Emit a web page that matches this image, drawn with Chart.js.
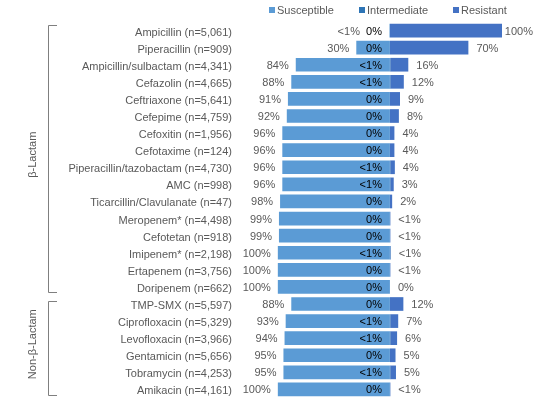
<!DOCTYPE html>
<html lang="en">
<head>
    <meta charset="UTF-8">
    <title>Susceptibility</title>
    <style>
        body{
            margin: 0;
            background: #fff;
        }
        .chart-item{
            width: 559px;
            height: 398px;
        }
    </style>
</head>
<body>
    <div class="chart-item">
        <canvas id="mychart"></canvas>
    </div>

    <script src="https://cdn.jsdelivr.net/npm/chart.js@4/dist/chart.umd.min.js"></script>
    <script>
        /* drug names and sample sizes */
        const drugs = [
            'Ampicillin (n=5,061)', 'Piperacillin (n=909)', 'Ampicillin/sulbactam (n=4,341)',
            'Cefazolin (n=4,665)', 'Ceftriaxone (n=5,641)', 'Cefepime (n=4,759)',
            'Cefoxitin (n=1,956)', 'Cefotaxime (n=124)', 'Piperacillin/tazobactam (n=4,730)',
            'AMC (n=998)', 'Ticarcillin/Clavulanate (n=47)', 'Meropenem* (n=4,498)',
            'Cefotetan (n=918)', 'Imipenem* (n=2,198)', 'Ertapenem (n=3,756)',
            'Doripenem (n=662)', 'TMP-SMX (n=5,597)', 'Ciprofloxacin (n=5,329)',
            'Levofloxacin (n=3,966)', 'Gentamicin (n=5,656)', 'Tobramycin (n=4,253)',
            'Amikacin (n=4,161)'
        ];

        // percentages (values between 0 and 1 are shown as "<1%")
        const susceptible  = [0.4, 30, 84, 88, 91, 92, 96, 96, 96, 96, 98, 99, 99, 100, 100, 100, 88, 93, 94, 95, 95, 100];
        const intermediate = [0, 0, 0.4, 0.4, 0, 0, 0, 0, 0.4, 0.4, 0, 0, 0, 0.4, 0, 0, 0, 0.4, 0.4, 0, 0.4, 0];
        const resistant    = [100, 70, 16, 12, 9, 8, 4, 4, 4, 3, 2, 0.4, 0.4, 0.4, 0.4, 0, 12, 7, 6, 5, 5, 0.4];

        /* drug groups (first and last row) */
        const groupNames = ['β-Lactam', 'Non-β-Lactam'];
        const groupFirst = [0, 16];
        const groupLast  = [15, 21];

        const FONT = '"Liberation Sans", Arial, sans-serif';
        const GREY = '#595959';

        function pct(v){
            if (v > 0 && v < 1) return '<1%';
            return Math.round(v) + '%';
        }

        // 막대 옆 라벨, 범례, 그룹 괄호
        const extras = {
            id: 'extras',
            afterDatasetsDraw(chart){
                const ctx = chart.ctx;
                const xs = chart.scales.x;
                const ys = chart.scales.y;
                const center = xs.getPixelForValue(0);

                ctx.save();
                ctx.font = '11px ' + FONT;
                ctx.textBaseline = 'middle';

                for (let i = 0; i < drugs.length; i++){
                    const y = ys.getPixelForValue(i);

                    ctx.fillStyle = GREY;
                    ctx.textAlign = 'right';
                    const sx = Math.min(xs.getPixelForValue(-susceptible[i]) - 7, center - 30);
                    ctx.fillText(pct(susceptible[i]), sx, y + 1);

                    ctx.fillStyle = '#000';
                    ctx.fillText(pct(intermediate[i]), center - 8, y + 1);

                    ctx.fillStyle = GREY;
                    ctx.textAlign = 'left';
                    const txt = pct(resistant[i]);
                    let rx = xs.getPixelForValue(intermediate[i] + resistant[i]) + 8;
                    const w = ctx.measureText(txt).width;
                    if (rx + w > 533) rx = 533 - w;
                    ctx.fillText(txt, rx, y + 1);
                }

                /* legend */
                const lx = [269, 359, 453];
                chart.data.datasets.forEach((ds, k) => {
                    ctx.fillStyle = ds.backgroundColor;
                    ctx.fillRect(lx[k], 7, 6, 6);
                    ctx.fillStyle = GREY;
                    ctx.textAlign = 'left';
                    ctx.fillText(ds.label, lx[k] + 8, 10.5);
                });

                /* group brackets */
                const half = (ys.getPixelForValue(1) - ys.getPixelForValue(0)) / 2;
                ctx.strokeStyle = '#7f7f7f';
                ctx.lineWidth = 1;
                for (let g = 0; g < groupNames.length; g++){
                    const top = ys.getPixelForValue(groupFirst[g]) - half + (g ? 6 : 3);
                    const bot = ys.getPixelForValue(groupLast[g]) + half - 3;
                    ctx.beginPath();
                    ctx.moveTo(57, Math.round(top) + 0.5);
                    ctx.lineTo(48.5, Math.round(top) + 0.5);
                    ctx.lineTo(48.5, Math.round(bot) + 0.5);
                    ctx.lineTo(57, Math.round(bot) + 0.5);
                    ctx.stroke();

                    ctx.save();
                    ctx.translate(33, (top + bot) / 2 - 4);
                    ctx.rotate(-Math.PI / 2);
                    ctx.textAlign = 'center';
                    ctx.fillStyle = GREY;
                    ctx.fillText(groupNames[g], 0, 0);
                    ctx.restore();
                }
                ctx.restore();
            }
        };

        new Chart(document.getElementById('mychart'), {
            type: 'bar',
            data: {
                labels: drugs,
                datasets: [
                    {
                        label: 'Susceptible',
                        data: susceptible.map(v => -v),
                        backgroundColor: '#5B9BD5',
                    },
                    {
                        label: 'Intermediate',
                        data: intermediate,
                        backgroundColor: '#2E75B6',
                    },
                    {
                        label: 'Resistant',
                        data: resistant,
                        backgroundColor: '#4472C4',
                    }
                ],
            },
            options: {
                indexAxis: 'y',
                responsive: true,
                maintainAspectRatio: false,
                animation: false,
                layout: { padding: { top: 22, right: 57, bottom: 0, left: 0 } },
                datasets: {
                    bar: { barPercentage: 0.8, categoryPercentage: 1 }
                },
                plugins: {
                    legend: { display: false },
                    tooltip: { enabled: false },
                },
                scales: {
                    x: {
                        stacked: true,
                        min: -140,
                        max: 100,
                        display: false,
                    },
                    y: {
                        stacked: true,
                        grid: { display: false, drawTicks: false },
                        border: { display: false },
                        ticks: {
                            padding: 1,
                            labelOffset: 2,
                            color: GREY,
                            font: { family: FONT, size: 11 },
                            autoSkip: false,
                        },
                        afterFit(scale){
                            scale.width = 233;
                            scale.paddingTop = 0;
                            scale.paddingBottom = 0;
                        }
                    }
                }
            },
            plugins: [extras]
        });
    </script>
</body>
</html>
